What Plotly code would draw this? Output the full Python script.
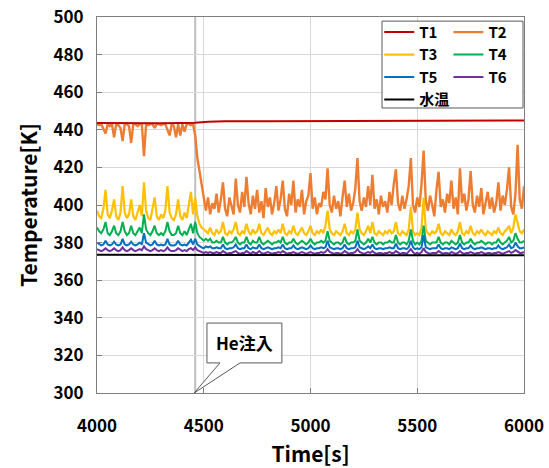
import plotly.graph_objects as go

# ---------------- data ----------------
time = list(range(4000, 6001, 10))

t1_time = [4000, 4100, 4200, 4300, 4400, 4460, 4520, 4600, 4800, 5000, 5200, 5400, 5600, 5800, 6000]
T1 = [443.6, 443.5, 443.6, 443.5, 443.6, 443.7, 444.3, 444.5, 444.6, 444.6, 444.7, 444.8, 444.9, 444.9, 445.0]

water_time = [4000, 4500, 5000, 5500, 6000]
water = [373.6, 373.4, 373.4, 373.3, 373.3]

T2 = [443, 442.5, 443, 440, 438, 443, 442, 443, 436, 443,
      442.5, 441, 434, 443, 443, 442, 433, 443, 443, 442,
      443, 443, 426, 443, 442.5, 443, 443, 441, 443, 443,
      442.5, 443, 443, 440, 437, 443, 442, 436, 443, 437,
      443, 439, 443, 443, 442.5, 443, 437, 425, 418, 410,
      402, 397, 404, 395, 401, 398, 406, 396, 403, 412,
      398, 394, 404, 399, 395, 414, 400, 396, 407, 399,
      415, 401, 395, 405, 398, 408, 396, 402, 393, 409,
      399, 404, 395, 401, 410, 397, 403, 413, 398, 394,
      406, 400, 413, 396, 403, 399, 408, 395, 402, 405,
      417, 398, 404, 395, 401, 399, 407, 403, 419.5, 400,
      396, 405, 398, 402, 394, 404, 413, 399, 406, 397,
      401, 409, 425, 402, 397, 404, 399, 410, 400, 416,
      398, 403, 395, 405, 399, 402, 396, 407, 400, 411,
      419, 401, 397, 405, 398, 403, 410, 425, 400, 396,
      404, 399, 411, 429, 402, 397, 405, 400, 394, 408,
      417.7, 399, 403, 396, 406, 401, 413, 398, 404, 395,
      419.5, 401, 406, 397, 403, 418, 400, 396, 405, 399,
      409, 395, 402, 407, 398, 404, 396, 401, 412, 397,
      405, 400, 408, 420, 399, 395, 406, 432, 403, 398,
      410]

T3 = [397, 394, 393, 398, 408, 395, 393, 397, 403, 394,
      392, 396, 410, 396, 393, 395, 403, 394, 392, 396,
      400, 394, 412, 397, 393, 392, 398, 404, 394, 392,
      395, 393, 397, 410, 396, 393, 392, 395, 403, 394,
      392, 396, 393, 399, 407, 395, 404, 394, 390, 388,
      387, 386, 385, 388, 385, 384, 387, 385, 386, 391,
      385, 384, 386, 385, 387, 391, 385, 384, 386, 385,
      390, 386, 384, 387, 385, 386, 390, 385, 384, 386,
      388, 385, 384, 386, 385, 387, 385, 390, 385, 384,
      386, 385, 389, 385, 384, 386, 388, 385, 384, 386,
      389, 385, 384, 386, 385, 387, 385, 389, 397, 387,
      385, 384, 386, 385, 384, 386, 390, 385, 384, 386,
      385, 387, 396, 387, 385, 384, 386, 389, 385, 391,
      385, 384, 386, 385, 384, 386, 385, 387, 385, 386,
      391, 385, 384, 386, 385, 384, 387, 399, 386, 384,
      385, 384, 388, 404, 387, 385, 384, 386, 385, 386,
      390, 385, 384, 386, 385, 384, 387, 385, 384, 386,
      391, 385, 384, 386, 385, 389, 385, 384, 386, 385,
      387, 385, 384, 386, 385, 384, 386, 385, 388, 385,
      384, 386, 387, 389, 385, 388, 395, 390, 386, 385,
      387]

T4 = [388, 386, 385, 387, 391, 385, 384, 386, 389, 385,
      384, 386, 391, 386, 384, 385, 389, 385, 384, 386,
      388, 385, 395, 387, 385, 384, 386, 389, 385, 384,
      385, 384, 386, 391, 386, 384, 384, 385, 389, 385,
      384, 386, 384, 387, 390, 385, 391, 385, 383, 382,
      381,
      382, 381, 382, 380, 380, 381, 380, 380, 383, 380,
      379, 380, 380, 381, 383, 380, 379, 380, 380, 383,
      380, 379, 381, 380, 380, 383, 380, 379, 380, 381,
      380, 379, 380, 380, 381, 380, 383, 380, 379, 380,
      380, 382, 380, 379, 380, 381, 380, 379, 380, 382,
      380, 379, 380, 380, 381, 380, 381, 386, 381, 380,
      379, 380, 380, 379, 380, 383, 380, 379, 380, 380,
      381, 387, 381, 380, 379, 380, 382, 380, 383, 380,
      379, 380, 380, 379, 380, 380, 381, 380, 380, 384,
      380, 379, 380, 380, 379, 381, 387, 381, 379, 380,
      379, 381, 389, 381, 380, 379, 380, 380, 380, 383,
      380, 379, 380, 380, 379, 381, 380, 379, 380, 384,
      380, 379, 380, 380, 382, 380, 379, 380, 380, 381,
      380, 379, 380, 380, 379, 380, 380, 382, 380, 379,
      380, 381, 383, 380, 381, 385, 382, 380, 380, 381]

T5 = [380, 379, 378.5, 379, 381, 379, 378.5, 379, 380.5, 379, 378.5,
      379, 382, 379, 378.5, 379, 380.5, 379, 378.5, 379, 380,
      379, 385, 380, 379, 378.5, 379, 381, 379, 378.5, 379,
      378.5, 379, 382, 379, 378.5, 378.5, 379, 381, 379, 378.5,
      379, 378.5, 380, 381.5, 379, 382, 379, 378, 377.5, 377,
      378, 377.5, 378, 377, 377, 377.5, 377, 377, 379, 377,
      376.5, 377, 377, 377.5, 379, 377, 376.5, 377, 377, 379,
      377, 376.5, 377.5, 377, 377, 379, 377, 376.5, 377, 377.5,
      377, 376.5, 377, 377, 377.5, 377, 379, 377, 376.5, 377,
      377, 378.5, 377, 376.5, 377, 377.5, 377, 376.5, 377, 378.5,
      377, 376.5, 377, 377, 377.5, 377, 377.5, 381, 377.5, 377,
      376.5, 377, 377, 376.5, 377, 379, 377, 376.5, 377, 377,
      377.5, 381, 377.5, 377, 376.5, 377, 378, 377, 379, 377,
      376.5, 377, 377, 376.5, 377, 377, 377.5, 377, 377, 379.5,
      377, 376.5, 377, 377, 376.5, 377.5, 381, 377.5, 376.5, 377,
      376.5, 377.5, 384, 377.5, 377, 376.5, 377, 377, 377, 379,
      377, 376.5, 377, 377, 376.5, 377.5, 377, 376.5, 377, 379.5,
      377, 376.5, 377, 377, 378.5, 377, 376.5, 377, 377, 377.5,
      377, 376.5, 377, 377, 376.5, 377, 377, 378.5, 377, 376.5,
      377, 377.5, 379, 377, 377.5, 380, 378, 377, 377, 377.5]

T6 = [376.5, 376, 375.5, 376, 377, 376, 375.5, 376, 377, 376, 375.5,
      376, 377.5, 376, 375.5, 376, 377, 376, 375.5, 376, 376.5,
      376, 378, 376.5, 376, 375.5, 376, 377, 376, 375.5, 376,
      375.5, 376, 377.5, 376, 375.5, 375.5, 376, 377, 376, 375.5,
      376, 375.5, 376.5, 377, 376, 377.5, 376, 375.5, 375, 374.5,
      375, 374.5, 375, 374.5, 374.5, 375, 374.5, 374.5, 375.5, 374.5,
      374, 374.5, 374.5, 375, 375.5, 374.5, 374, 374.5, 374.5, 375.5,
      374.5, 374, 375, 374.5, 374.5, 375.5, 374.5, 374, 374.5, 375,
      374.5, 374, 374.5, 374.5, 375, 374.5, 375.5, 374.5, 374, 374.5,
      374.5, 375, 374.5, 374, 374.5, 375, 374.5, 374, 374.5, 375,
      374.5, 374, 374.5, 374.5, 375, 374.5, 375, 376.5, 375, 374.5,
      374, 374.5, 374.5, 374, 374.5, 375.5, 374.5, 374, 374.5, 374.5,
      375, 376.5, 375, 374.5, 374, 374.5, 375, 374.5, 375.5, 374.5,
      374, 374.5, 374.5, 374, 374.5, 374.5, 375, 374.5, 374.5, 375.5,
      374.5, 374, 374.5, 374.5, 374, 375, 376.5, 375, 374, 374.5,
      374, 375, 377, 375, 374.5, 374, 374.5, 374.5, 374.5, 375.5,
      374.5, 374, 374.5, 374.5, 374, 375, 374.5, 374, 374.5, 375.5,
      374.5, 374, 374.5, 374.5, 375, 374.5, 374, 374.5, 374.5, 375,
      374.5, 374, 374.5, 374.5, 374, 374.5, 374.5, 375, 374.5, 374,
      374.5, 375, 375.5, 374.5, 375, 376, 375, 374.5, 374.5, 375]

for name, s in [("T2", T2), ("T3", T3), ("T4", T4), ("T5", T5), ("T6", T6)]:
    assert len(s) == len(time), (name, len(s))

he_time = 4460
he_label = "He注入"
x_ticks = [4000, 4500, 5000, 5500, 6000]
y_ticks = [300, 320, 340, 360, 380, 400, 420, 440, 460, 480, 500]

FONT = "Noto Sans CJK JP"

fig = go.Figure()

def add(x, y, name, color, legend, rank, width=2):
    fig.add_trace(go.Scatter(x=x, y=y, mode="lines", name=name,
                             line=dict(color=color, width=width),
                             legend=legend, legendrank=rank))

add(time, T2, "T2", "#ED7D31", "legend2", 1, 2.4)
add(time, T3, "T3", "#FFC000", "legend", 2, 2.2)
add(time, T4, "T4", "#00B050", "legend2", 2)
add(time, T5, "T5", "#0070C0", "legend", 3)
add(time, T6, "T6", "#7030A0", "legend2", 3)
add(water_time, water, "水温", "#000000", "legend", 4)
add(t1_time, T1, "T1", "#C00000", "legend", 1)

# He injection marker line
fig.add_shape(type="line", x0=he_time, x1=he_time, y0=300, y1=500,
              xref="x", yref="y", line=dict(color="#bfbfbf", width=2), layer="below")

# callout bubble
bx0, bx1, by0, by1 = 4515, 4866, 316, 337.2
fig.add_shape(type="path",
              path=f"M {bx0},{by1} L {bx1},{by1} L {bx1},{by0} L 4670,{by0} L {he_time - 5},300 L 4576,{by0} L {bx0},{by0} Z",
              xref="x", yref="y", fillcolor="white",
              line=dict(color="#595959", width=1), layer="above")
fig.add_annotation(x=(bx0 + bx1) / 2, y=(by0 + by1) / 2, xref="x", yref="y",
                   text=he_label, showarrow=False,
                   font=dict(family=FONT, size=17, color="black", weight="bold"))

# legend frame
fig.add_shape(type="rect", xref="paper", yref="paper",
              x0=0.6675, x1=0.9977, y0=0.758, y1=0.989,
              fillcolor="white", line=dict(color="#595959", width=1), layer="above")

axis_common = dict(showline=True, linecolor="#7f7f7f", linewidth=1, mirror=True,
                   showgrid=True, gridcolor="#d9d9d9", gridwidth=1,
                   ticks="inside", ticklen=5, tickcolor="#7f7f7f",
                   zeroline=False, automargin=False,
                   tickfont=dict(family=FONT, size=17, color="black", weight="bold"))

fig.update_layout(
    width=549, height=468,
    margin=dict(l=97, r=25, t=17, b=75, autoexpand=False),
    paper_bgcolor="white", plot_bgcolor="white",
    font=dict(family=FONT, color="black", weight="bold"),
    xaxis=dict(range=[4000, 6000], tickvals=x_ticks, ticklabelstandoff=18,
               title=dict(text="Time[s]", standoff=11,
                          font=dict(family=FONT, size=21, color="black", weight="bold")),
               **axis_common),
    yaxis=dict(range=[300, 500], tickvals=y_ticks, ticklabelstandoff=9,
               title=dict(text="Temperature[K]", standoff=10,
                          font=dict(family=FONT, size=21, color="black", weight="bold")),
               **axis_common),
    legend=dict(x=0.661, y=1.003, xanchor="left", yanchor="top",
                bgcolor="rgba(0,0,0,0)", borderwidth=0,
                font=dict(family=FONT, size=15, color="black", weight="bold"),
                tracegroupgap=0, itemwidth=30),
    legend2=dict(x=0.823, y=1.003, xanchor="left", yanchor="top",
                 bgcolor="rgba(0,0,0,0)", borderwidth=0,
                 font=dict(family=FONT, size=15, color="black", weight="bold"),
                 tracegroupgap=0, itemwidth=30),
    showlegend=True,
)

fig.write_html("out.html", config={"displayModeBar": False},
               post_script="document.body.style.margin='0';document.body.style.padding='0';")
